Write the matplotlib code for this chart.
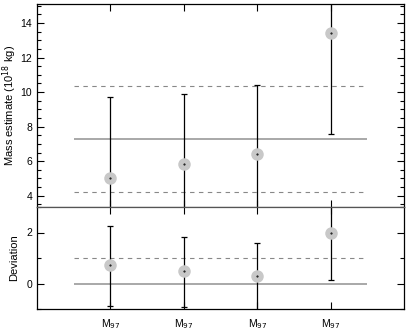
import matplotlib.pyplot as plt
import numpy as np
from matplotlib.ticker import MultipleLocator

plt.rcParams['font.family'] = ['Liberation Sans', 'DejaVu Sans']
plt.rcParams['font.size'] = 7.5

positions = [1, 2, 3, 4]
labels = ['M$_{97}$'] * 4

mass = [5.05, 5.85, 6.4, 13.4]
mass_lo = [2.0, 2.0, 2.0, 7.6]
mass_hi = [9.7, 9.9, 10.4, 16.5]
mass_mean = 7.3
mass_band = [4.2, 10.35]

dev = [0.72, 0.48, 0.3, 2.0]
dev_lo = [-0.9, -0.92, -1.5, 0.12]
dev_hi = [2.25, 1.82, 1.6, 3.5]
dev_mean = 0.0
dev_band = [1.0]

W, H = 407, 330
fig = plt.figure(figsize=(W / 100, H / 100), dpi=100)
ax1 = fig.add_axes([37 / W, 1 - 207 / H, 367 / W, 203 / H])
ax2 = fig.add_axes([37 / W, 1 - 309 / H, 367 / W, 102 / H], sharex=ax1)


def panel(ax, y, lo, hi, mean, band):
    ax.hlines(mean, 0.5, 4.5, color='#999999', lw=1.2)
    for b in band:
        ax.hlines(b, 0.5, 4.5, color='#888888', lw=0.8, linestyles=(0, (4, 4)))
    y = np.array(y)
    err = [y - np.array(lo), np.array(hi) - y]
    ax.errorbar(positions, y, yerr=err, fmt='none', ecolor='black',
                elinewidth=0.9, capsize=2.5, capthick=0.9)
    ax.plot(positions, y, 'o', ms=9, mfc='#c8c8c8', mec='none', zorder=3)
    ax.plot(positions, y, '.', ms=1, color='black', zorder=4)
    ax.tick_params(which='both', direction='in', top=True, right=True)
    ax.tick_params(which='major', length=5, width=0.8)
    ax.tick_params(which='minor', length=3, width=0.8)
    for s in ax.spines.values():
        s.set_linewidth(0.9)


panel(ax1, mass, mass_lo, mass_hi, mass_mean, mass_band)
panel(ax2, dev, dev_lo, dev_hi, dev_mean, dev_band)

ax1.set_xlim(0, 5)
ax1.set_ylim(3.35, 15.1)
ax1.yaxis.set_major_locator(MultipleLocator(2))
ax1.yaxis.set_minor_locator(MultipleLocator(0.5))
ax1.set_xticks(positions)
ax1.tick_params(axis='x', labelbottom=False)
ax1.set_ylabel('Mass estimate (10$^{18}$ kg)', fontsize=8)
ax1.spines['bottom'].set_color('#555555')

ax2.set_ylim(-1, 3)
ax2.yaxis.set_major_locator(MultipleLocator(2))
ax2.yaxis.set_minor_locator(MultipleLocator(1))
ax2.set_xticks(positions)
ax2.set_xticklabels(labels)
ax2.tick_params(axis='x', pad=6)
ax2.set_ylabel('Deviation', fontsize=8)
ax2.spines['top'].set_color('#555555')

ax1.yaxis.set_label_coords(-0.05, 0.5, transform=ax1.transAxes)
ax2.yaxis.set_label_coords(-0.05, 0.5, transform=ax2.transAxes)

fig.savefig('out.png', dpi=100)
